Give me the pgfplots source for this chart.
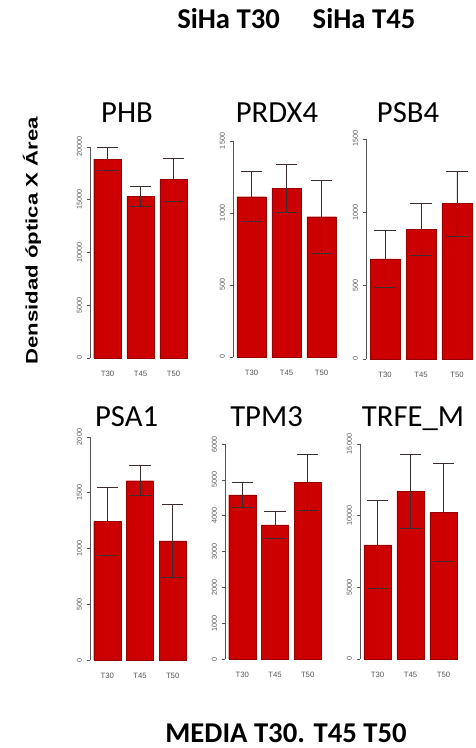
\documentclass[border=0pt]{standalone}
\usepackage{graphicx}
\usepackage{pgfplots}
\pgfplotsset{compat=1.18}
\usepackage{pgfplotstable}
\usepackage{fontspec}
\setmainfont{Liberation Sans}
\newfontfamily\calib{Carlito}
\definecolor{barred}{RGB}{204,0,0}
\definecolor{bardark}{RGB}{150,0,0}
\definecolor{errc}{RGB}{60,45,45}
\definecolor{tickc}{RGB}{85,85,85}

\pgfplotstableread{
x y e
0 18860 1080
1 15320 920
2 16900 2020
}\PHB
\pgfplotstableread{
x y e
0 1113 174
1 1171 169
2 974 253
}\PRDX
\pgfplotstableread{
x y e
0 682 197
1 882 177
2 1059 220
}\PSB
\pgfplotstableread{
x y e
0 1243 308
1 1608 135
2 1069 330
}\PSA
\pgfplotstableread{
x y e
0 4577 344
1 3740 380
2 4921 776
}\TPM
\pgfplotstableread{
x y e
0 7966 3075
1 11693 2562
2 10225 3390
}\TRFE

\pgfplotsset{panel/.style={
  scale only axis,
  ybar, bar width=0.833,
  xmin=-0.53, xmax=2.53, ymin=0,
  axis y line=left, axis x line=bottom,
  x axis line style={draw=none},
  y axis line style={-, draw=tickc, line width=0.4pt},
  xtick={0,1,2}, xticklabels={T30,T45,T50},
  xtick style={draw=none},
  ytick style={draw=tickc, line width=0.4pt},
  tick align=outside, major tick length=2.5pt,
  /pgf/number format/assume math mode=true,
  /pgf/number format/set thousands separator={},
  scaled y ticks=false,
  yticklabel style={rotate=90, anchor=south, font=\fontsize{5.4}{6}\selectfont, text=tickc},
  xticklabel style={font=\fontsize{5.8}{7}\selectfont, text=tickc, yshift=-4pt},
  clip=false,
  anchor=south west,
}}
\pgfplotsset{barstyle/.style={fill=barred, draw=bardark, line width=0.3pt,
  error bars/.cd, y dir=both, y explicit,
  error bar style={errc, line width=0.6pt},
  error mark options={rotate=90, errc, line width=0.6pt, mark size=8pt}}}

\begin{document}
\begin{tikzpicture}
\path[use as bounding box] (0pt,0pt) rectangle (356.25pt,561pt);

% top row
\begin{axis}[panel, at={(67.5pt,292.5pt)}, width=75.75pt, height=158.25pt,
  ymax=20000, ytick={0,5000,10000,15000,20000}]
\addplot[barstyle] table[x=x, y=y, y error=e]{\PHB};
\end{axis}
\begin{axis}[panel, at={(174.75pt,293.25pt)}, width=80.25pt, height=162pt,
  ymax=1500, ytick={0,500,1000,1500}]
\addplot[barstyle] table[x=x, y=y, y error=e]{\PRDX};
\end{axis}
\begin{axis}[panel, at={(274.5pt,291.75pt)}, width=82.5pt, height=165pt,
  ymax=1500, ytick={0,500,1000,1500}]
\addplot[barstyle] table[x=x, y=y, y error=e]{\PSB};
\end{axis}

% bottom row
\begin{axis}[panel, at={(67.5pt,66pt)}, width=75pt, height=167.25pt,
  ymax=2000, ytick={0,500,1000,1500,2000}]
\addplot[barstyle] table[x=x, y=y, y error=e]{\PSA};
\end{axis}
\begin{axis}[panel, at={(168.75pt,66.75pt)}, width=75pt, height=161.25pt,
  ymax=6000, ytick={0,1000,2000,3000,4000,5000,6000}]
\addplot[barstyle] table[x=x, y=y, y error=e]{\TPM};
\end{axis}
\begin{axis}[panel, at={(270pt,66.75pt)}, width=75.75pt, height=161.25pt,
  ymax=15000, ytick={0,5000,10000,15000}]
\addplot[barstyle] table[x=x, y=y, y error=e]{\TRFE};
\end{axis}

% panel titles
\begin{scope}[every node/.style={font=\calib\fontsize{23}{26}\selectfont, anchor=base, inner sep=0pt}]
\node at (95.25pt,468.75pt) {PHB};
\node at (207.75pt,468.75pt) {PRDX4};
\node at (306pt,468.75pt) {PSB4};
\node at (94.9pt,240.75pt) {PSA1};
\node at (199.9pt,240.75pt) {TPM3};
\node at (309.75pt,240.75pt) {TRFE\_M};
\end{scope}

% header and footer
\node[font=\calib\bfseries\fontsize{21.5}{24}\selectfont, anchor=base, inner sep=0pt] at (171.4pt,539.25pt) {SiHa T30};
\node[font=\calib\bfseries\fontsize{21.5}{24}\selectfont, anchor=base, inner sep=0pt] at (273pt,539.25pt) {SiHa T45};
\node[font=\calib\bfseries\fontsize{21.5}{24}\selectfont, anchor=base, inner sep=0pt] at (214.5pt,4.5pt) {MEDIA T30. T45 T50};

% y label
\node[rotate=90, font=\bfseries\fontsize{12.5}{14}\selectfont, inner sep=0pt] at (24pt,380.25pt) {\scalebox{1.33}[1]{Densidad óptica X Área}};
\end{tikzpicture}
\end{document}
